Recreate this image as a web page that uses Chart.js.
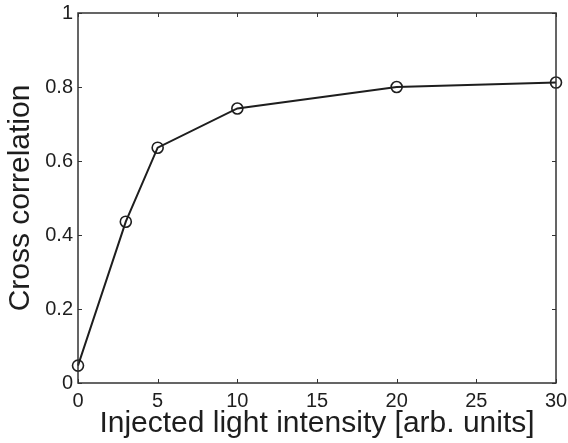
<!DOCTYPE html>
<html>
<head>
<meta charset="utf-8">
<script src="https://cdn.jsdelivr.net/npm/chart.js@4/dist/chart.umd.min.js"></script>
<style>
html,body{margin:0;padding:0;background:#fff;}
canvas{display:block;}
</style>
</head>
<body>
<canvas id="c" width="568" height="443"></canvas>
<script>
const intensity = [0, 3, 5, 10, 20, 30];
const crossCorrelation = [0.047, 0.436, 0.636, 0.742, 0.800, 0.812];
const xTicks = [0, 5, 10, 15, 20, 25, 30];
const yTicks = [0, 0.2, 0.4, 0.6, 0.8, 1];

const FONT = "'Liberation Sans', Arial, Helvetica, sans-serif";
const INK = '#1e1e1e';

const frameTicks = {
  id: 'frameTicks',
  afterDatasetsDraw(chart) {
    const {ctx, chartArea: a, scales: {x, y}} = chart;
    ctx.save();
    ctx.strokeStyle = '#333';
    ctx.lineWidth = 1.5;
    ctx.strokeRect(a.left, a.top, a.right - a.left, a.bottom - a.top);
    ctx.lineWidth = 1;
    const L = 4;
    ctx.beginPath();
    xTicks.forEach(v => {
      const px = Math.round(x.getPixelForValue(v)) + 0.5;
      ctx.moveTo(px, a.bottom); ctx.lineTo(px, a.bottom - L);
      ctx.moveTo(px, a.top); ctx.lineTo(px, a.top + L);
    });
    yTicks.forEach(v => {
      const py = Math.round(y.getPixelForValue(v)) + 0.5;
      ctx.moveTo(a.left, py); ctx.lineTo(a.left + L, py);
      ctx.moveTo(a.right, py); ctx.lineTo(a.right - L, py);
    });
    ctx.stroke();
    ctx.restore();
  }
};

new Chart(document.getElementById('c'), {
  type: 'line',
  data: {
    datasets: [{
      data: intensity.map((v, i) => ({x: v, y: crossCorrelation[i]})),
      borderColor: INK,
      borderWidth: 2,
      pointStyle: 'circle',
      pointRadius: 5.5,
      pointBorderWidth: 1.6,
      pointBorderColor: INK,
      pointBackgroundColor: 'rgba(0,0,0,0)',
      tension: 0,
      fill: false,
      clip: false
    }]
  },
  options: {
    responsive: false,
    animation: false,
    devicePixelRatio: 1,
    layout: {padding: {top: 13, right: 12, left: 0, bottom: 0}},
    plugins: {legend: {display: false}, tooltip: {enabled: false}},
    scales: {
      x: {
        type: 'linear', min: 0, max: 30,
        afterBuildTicks: s => { s.ticks = xTicks.map(v => ({value: v})); },
        grid: {display: false, drawTicks: false},
        border: {display: false},
        ticks: {font: {family: FONT, size: 20}, color: INK, padding: 6, maxRotation: 0},
        title: {display: true, text: 'Injected light intensity [arb. units]',
                font: {family: FONT, size: 30}, color: INK, padding: {top: 0, bottom: 1}},
        afterFit: s => { s.height = 60; s.paddingLeft = 0; s.paddingRight = 0; }
      },
      y: {
        type: 'linear', min: 0, max: 1,
        afterBuildTicks: s => { s.ticks = yTicks.map(v => ({value: v})); },
        grid: {display: false, drawTicks: false},
        border: {display: false},
        ticks: {font: {family: FONT, size: 20}, color: INK, padding: 5,
                callback: v => String(Math.round(v * 10) / 10)},
        title: {display: true, text: 'Cross correlation',
                font: {family: FONT, size: 30}, color: INK, padding: {top: 3, bottom: 0}},
        afterFit: s => { s.width = 78; s.paddingTop = 0; s.paddingBottom = 0; }
      }
    }
  },
  plugins: [frameTicks]
});
</script>
</body>
</html>
